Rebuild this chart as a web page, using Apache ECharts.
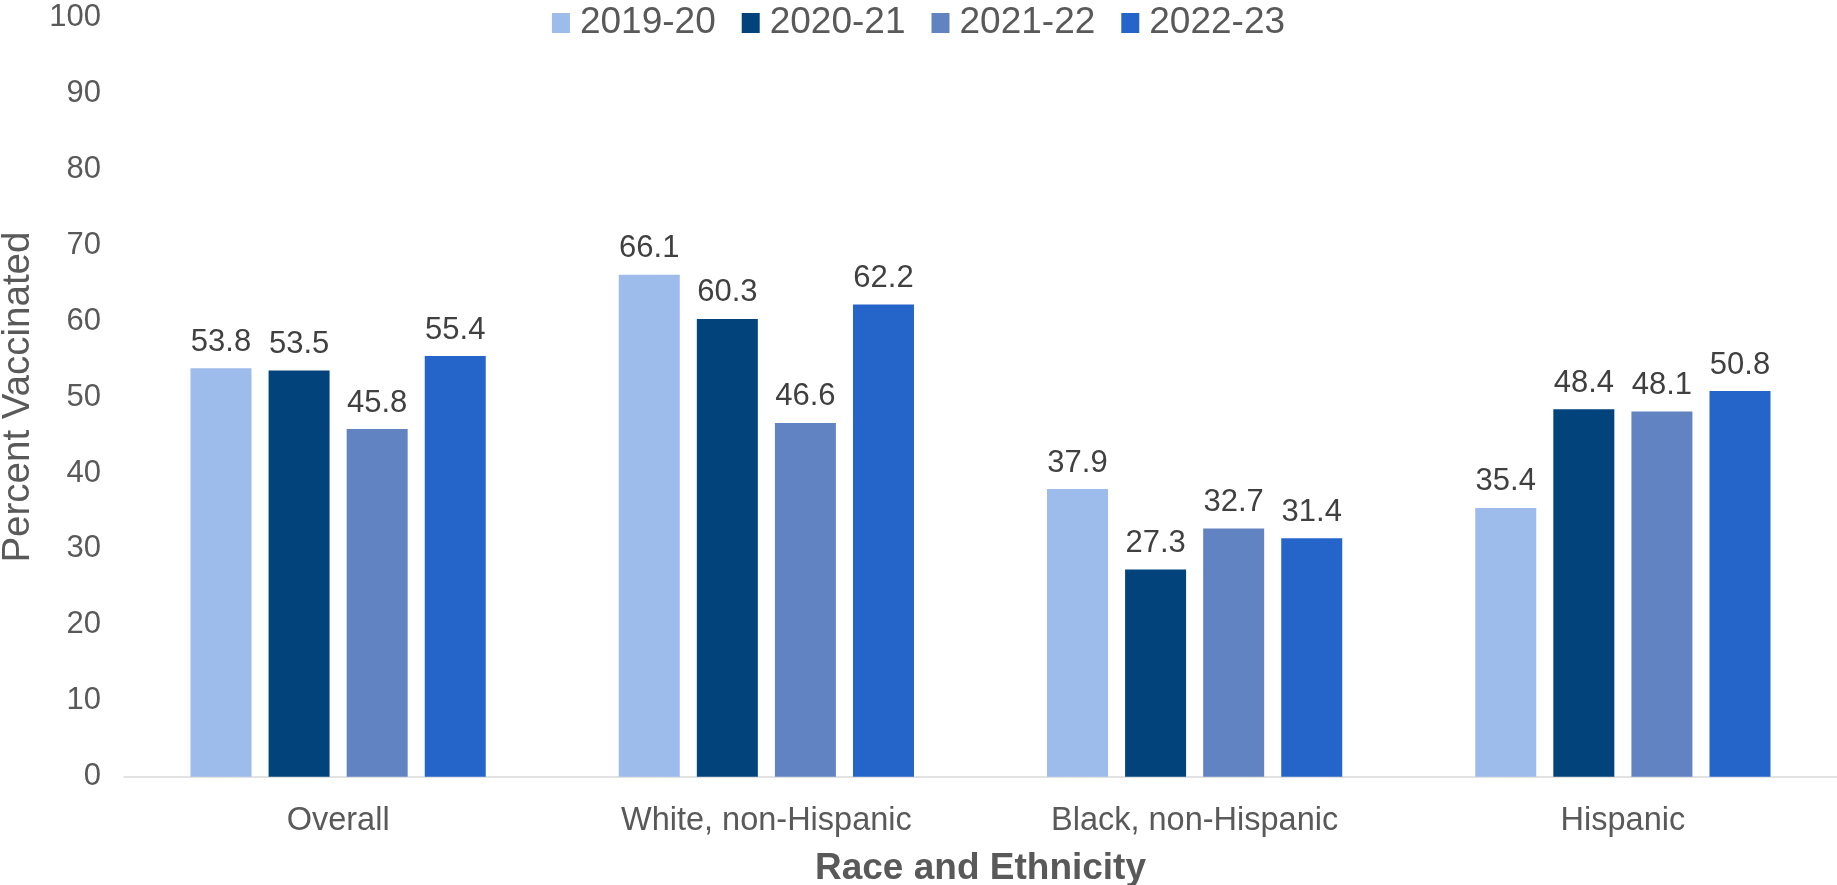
<!DOCTYPE html>
<html>
<head>
<meta charset="utf-8">
<script src="https://cdn.jsdelivr.net/npm/echarts@6/dist/echarts.min.js"></script>
<style>
html,body{margin:0;padding:0;background:#fff;}
#chart{width:1837px;height:885px;}
</style>
</head>
<body>
<div id="chart"></div>
<script>
const categories = ["Overall", "White, non-Hispanic", "Black, non-Hispanic", "Hispanic"];
const seasons = ["2019-20", "2020-21", "2021-22", "2022-23"];
const v2019_20 = [53.8, 66.1, 37.9, 35.4];
const v2020_21 = [53.5, 60.3, 27.3, 48.4];
const v2021_22 = [45.8, 46.6, 32.7, 48.1];
const v2022_23 = [55.4, 62.2, 31.4, 50.8];
const yTicks = [0, 10, 20, 30, 40, 50, 60, 70, 80, 90, 100];

const seriesValues = [v2019_20, v2020_21, v2021_22, v2022_23];
const colors = ["#9dbbeb", "#02437b", "#6283c2", "#2565c9"];
const FONT = '"Liberation Sans", Arial, sans-serif';

const chart = echarts.init(document.getElementById('chart'));
chart.setOption({
  animation: false,
  color: colors,
  textStyle: { fontFamily: FONT },
  legend: {
    top: 4.5,
    left: 'center',
    padding: 0,
    itemWidth: 18,
    itemHeight: 20,
    itemGap: 26,
    icon: 'rect',
    textStyle: { fontSize: 37, color: '#595959', fontFamily: FONT, padding: [0, 0, 0, 5] },
    data: seasons
  },
  grid: { left: 124, right: 0, top: 17.5, bottom: 108.3, containLabel: false, outerBoundsMode: 'none' },
  xAxis: {
    type: 'category',
    data: categories,
    name: 'Race and Ethnicity',
    nameLocation: 'middle',
    nameGap: 74,
    nameTextStyle: { fontSize: 37, fontWeight: 'bold', color: '#595959', fontFamily: FONT },
    axisLine: { lineStyle: { color: '#d9d9d9', width: 1.5 } },
    axisTick: { show: false },
    axisLabel: { fontSize: 32.5, color: '#595959', margin: 28, fontFamily: FONT }
  },
  yAxis: {
    type: 'value',
    min: yTicks[0],
    max: yTicks[yTicks.length - 1],
    interval: yTicks[1] - yTicks[0],
    name: 'Percent Vaccinated',
    nameLocation: 'middle',
    nameGap: 81,
    nameTextStyle: { fontSize: 38.5, color: '#595959', fontFamily: FONT },
    splitLine: { show: false },
    axisLine: { show: false },
    axisTick: { show: false },
    axisLabel: { fontSize: 31, color: '#595959', margin: 23, fontFamily: FONT }
  },
  series: seasons.map((s, i) => ({
    name: s,
    type: 'bar',
    data: seriesValues[i],
    barWidth: 61,
    barGap: '28%',
    itemStyle: { color: colors[i] },
    label: {
      show: true,
      position: 'top',
      distance: 10.5,
      fontSize: 31,
      color: '#404040',
      fontFamily: FONT,
      formatter: p => p.value.toFixed(1)
    }
  }))
});
</script>
</body>
</html>
